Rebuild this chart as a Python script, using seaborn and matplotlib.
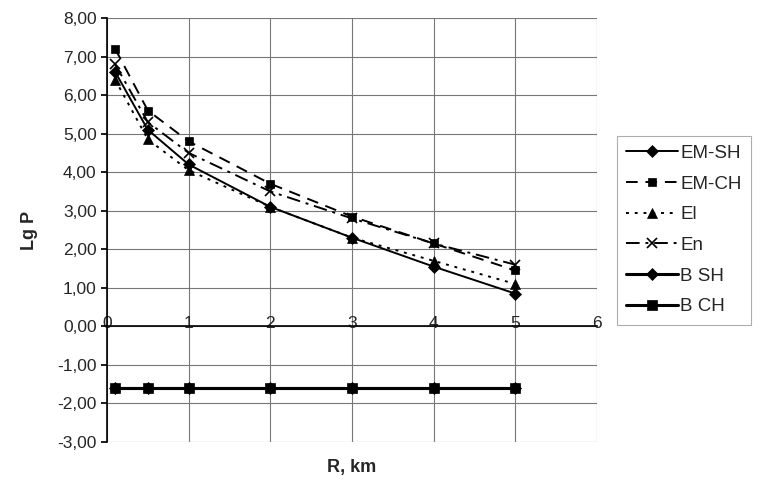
import matplotlib
matplotlib.use("Agg")
import matplotlib.pyplot as plt
import matplotlib.ticker as mticker
import seaborn as sns
import pandas as pd

# Data
r_km = [0.1, 0.5, 1, 2, 3, 4, 5]
em_sh = [6.6, 5.1, 4.2, 3.1, 2.3, 1.55, 0.85]
em_ch = [7.2, 5.6, 4.8, 3.7, 2.85, 2.15, 1.45]
el = [6.4, 4.85, 4.05, 3.1, 2.3, 1.7, 1.1]
en = [6.8, 5.3, 4.5, 3.5, 2.8, 2.15, 1.6]
b_sh = [-1.6, -1.6, -1.6, -1.6, -1.6, -1.6, -1.6]
b_ch = [-1.6, -1.6, -1.6, -1.6, -1.6, -1.6, -1.6]

series = [
    ("EM-SH", em_sh, "-", "D", 1.4, 6),
    ("EM-CH", em_ch, (0, (6, 4)), "s", 1.4, 6),
    ("El", el, (0, (1.5, 3)), "^", 1.4, 7),
    ("En", en, (0, (7, 3, 1.5, 3)), "x", 1.4, 7),
    ("B SH", b_sh, "-", "D", 2.2, 6),
    ("B CH", b_ch, "-", "s", 2.2, 7),
]

sns.set_theme(style="white")
plt.rcParams["font.family"] = ["Liberation Sans", "DejaVu Sans"]

fig = plt.figure(figsize=(7.59, 4.9), dpi=100)
ax = fig.add_axes([107 / 759, 48 / 490, 490 / 759, 424 / 490])

for name, vals, ls, mk, lw, ms in series:
    df = pd.DataFrame({"R": r_km, "P": vals})
    sns.lineplot(data=df, x="R", y="P", ax=ax, color="black", linestyle=ls,
                 marker=mk, markersize=ms, linewidth=lw, markeredgecolor="black",
                 markeredgewidth=1.2 if mk == "x" else 0.5, label=name)

ax.set_xlim(0, 6)
ax.set_ylim(-3, 8)
ax.set_xticks(range(0, 7))
ax.set_yticks(range(-3, 9))
ax.yaxis.set_major_formatter(mticker.FuncFormatter(lambda v, p: f"{v:.2f}".replace(".", ",")))
ax.grid(True, color="#777777", linewidth=0.8)

for s in ["top", "right"]:
    ax.spines[s].set_visible(False)
ax.spines["left"].set_color("black")
ax.spines["left"].set_linewidth(1.2)
ax.spines["bottom"].set_position(("data", 0))
ax.spines["bottom"].set_color("black")
ax.spines["bottom"].set_linewidth(1.2)

ax.tick_params(axis="x", direction="in", labelsize=12.5, length=4, color="black")
ax.tick_params(axis="y", direction="out", labelsize=12.5, length=4, left=True, color="black")
for lab in ax.get_xticklabels():
    lab.set_verticalalignment("bottom")
ax.tick_params(axis="x", pad=3)

ax.set_xlabel("R, km", fontsize=13, fontweight="bold", labelpad=0)
ax.xaxis.set_label_coords(0.5, -0.04)
ax.set_ylabel("Lg P", fontsize=13, fontweight="bold", labelpad=14)

leg = ax.legend(loc="center left", bbox_to_anchor=(1.04, 0.5), frameon=True,
                fontsize=13.5, handlelength=2.8, handletextpad=0.1, borderpad=0.5,
                labelspacing=0.72, borderaxespad=0, fancybox=False,
                edgecolor="#999999")
leg.get_frame().set_linewidth(0.8)

fig.savefig("out.png", dpi=100)
